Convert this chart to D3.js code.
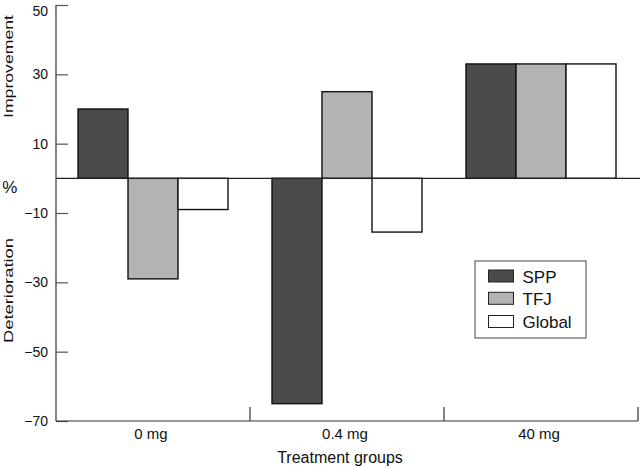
<!DOCTYPE html>
<html>
<head>
<meta charset="utf-8">
<script src="https://cdn.jsdelivr.net/npm/d3@7/dist/d3.min.js"></script>
<style>
  html, body { margin: 0; padding: 0; background: #fff; }
  svg { display: block; font-family: "Liberation Sans", Arial, Helvetica, sans-serif; }
</style>
</head>
<body>
<svg id="chart" width="640" height="467"></svg>
<script>
const categories = ["0 mg", "0.4 mg", "40 mg"];
const seriesNames = ["SPP", "TFJ", "Global"];
const sppValues = [20, -65, 33];
const tfjValues = [-29, 25, 33];
const globalValues = [-9, -15.5, 33];
const yTicks = [-70, -50, -30, -10, 10, 30, 50];
const seriesColors = ["#4b4b4b", "#b3b3b3", "#ffffff"];

(function () {
const seriesValues = [sppValues, tfjValues, globalValues];
const data = [];
categories.forEach((c, i) => {
  seriesNames.forEach((s, j) => data.push({ cat: c, series: s, value: seriesValues[j][i] }));
});

const svg = d3.select("#chart");
const pLeft = 56, pRight = 638, pTop = 5, pBottom = 421;

const x = d3.scaleBand().domain(categories).range([pLeft, pRight]).padding(0);
const xs = d3.scaleBand().domain(seriesNames).range([0, x.bandwidth()]).paddingInner(0).paddingOuter(0.44);
const y = d3.scaleLinear().domain([-70, 50]).range([pBottom, pTop]);
const color = d3.scaleOrdinal().domain(seriesNames).range(seriesColors);

// Bars
svg.append("g").selectAll("rect").data(data).join("rect")
  .attr("x", d => x(d.cat) + xs(d.series))
  .attr("width", xs.bandwidth())
  .attr("y", d => y(Math.max(0, d.value)))
  .attr("height", d => Math.abs(y(d.value) - y(0)))
  .attr("fill", d => color(d.series))
  .attr("stroke", "#111")
  .attr("stroke-width", 1.4);

// Zero line
svg.append("line")
  .attr("x1", pLeft).attr("x2", 640)
  .attr("y1", y(0)).attr("y2", y(0))
  .attr("stroke", "#222").attr("stroke-width", 1.2);

// Y axis
const yAxis = svg.append("g").attr("transform", `translate(${pLeft},0)`)
  .call(d3.axisRight(y).tickValues(yTicks).tickSize(12).tickFormat(d => d < 0 ? "\u2212" + Math.abs(d) : d));
yAxis.select(".domain").attr("stroke", "#333").attr("stroke-width", 1.2).attr("d", `M0,${pTop}V${pBottom}`);
yAxis.selectAll(".tick line").attr("stroke", "#555").attr("stroke-width", 1.2);
yAxis.selectAll(".tick text")
  .attr("x", -8).attr("text-anchor", "end")
  .attr("font-size", 14).attr("fill", "#111")
  .attr("font-family", "'Liberation Sans', Arial, sans-serif");
yAxis.selectAll(".tick text").filter(d => d === 50).attr("dy", "0.72em");

// X axis
const xAxis = svg.append("g").attr("transform", `translate(0,${pBottom})`)
  .call(d3.axisTop(x).tickSize(0).tickFormat(""));
xAxis.select(".domain").attr("stroke", "#333").attr("stroke-width", 1.2).attr("d", `M${pLeft},0H${pRight}`);
xAxis.selectAll(".tick").remove();
xAxis.selectAll("line.bound").data(categories).join("line")
  .attr("class", "bound")
  .attr("x1", d => x(d) + x.bandwidth()).attr("x2", d => x(d) + x.bandwidth())
  .attr("y1", 0).attr("y2", -14)
  .attr("stroke", "#333").attr("stroke-width", 1.2);
svg.append("g").selectAll("text").data(categories).join("text")
  .attr("x", d => x(d) + x.bandwidth() / 2 - 2)
  .attr("y", 439)
  .attr("text-anchor", "middle")
  .attr("font-size", 15).attr("fill", "#111")
  .text(d => d);

svg.append("text").attr("x", 340).attr("y", 463).attr("text-anchor", "middle")
  .attr("font-size", 16).attr("fill", "#111").text("Treatment groups");

function rotLabel(txt, cy, len) {
  svg.append("text")
    .attr("transform", `translate(13,${cy}) rotate(-90)`)
    .attr("text-anchor", "middle")
    .attr("font-size", 13.5).attr("fill", "#111")
    .attr("textLength", len).attr("lengthAdjust", "spacingAndGlyphs")
    .text(txt);
}
rotLabel("Improvement", 66.5, 103);
rotLabel("Deterioration", 290.5, 105);
svg.append("text").attr("x", 9.7).attr("y", 193).attr("text-anchor", "middle")
  .attr("font-size", 17).attr("fill", "#111").text("%");

const lg = svg.append("g");
lg.append("rect").attr("x", 475).attr("y", 261).attr("width", 111).attr("height", 77)
  .attr("fill", "#fff").attr("stroke", "#444").attr("stroke-width", 1);
const legendY = [270, 292.3, 315.5];
seriesNames.forEach((s, i) => {
  lg.append("rect").attr("x", 488.5).attr("y", legendY[i]).attr("width", 25).attr("height", 12)
    .attr("fill", color(s)).attr("stroke", "#222").attr("stroke-width", 1);
  lg.append("text").attr("x", 522.5).attr("y", legendY[i] + 12.6)
    .attr("font-size", 17).attr("fill", "#111").text(s);
});
})();
</script>
</body>
</html>
